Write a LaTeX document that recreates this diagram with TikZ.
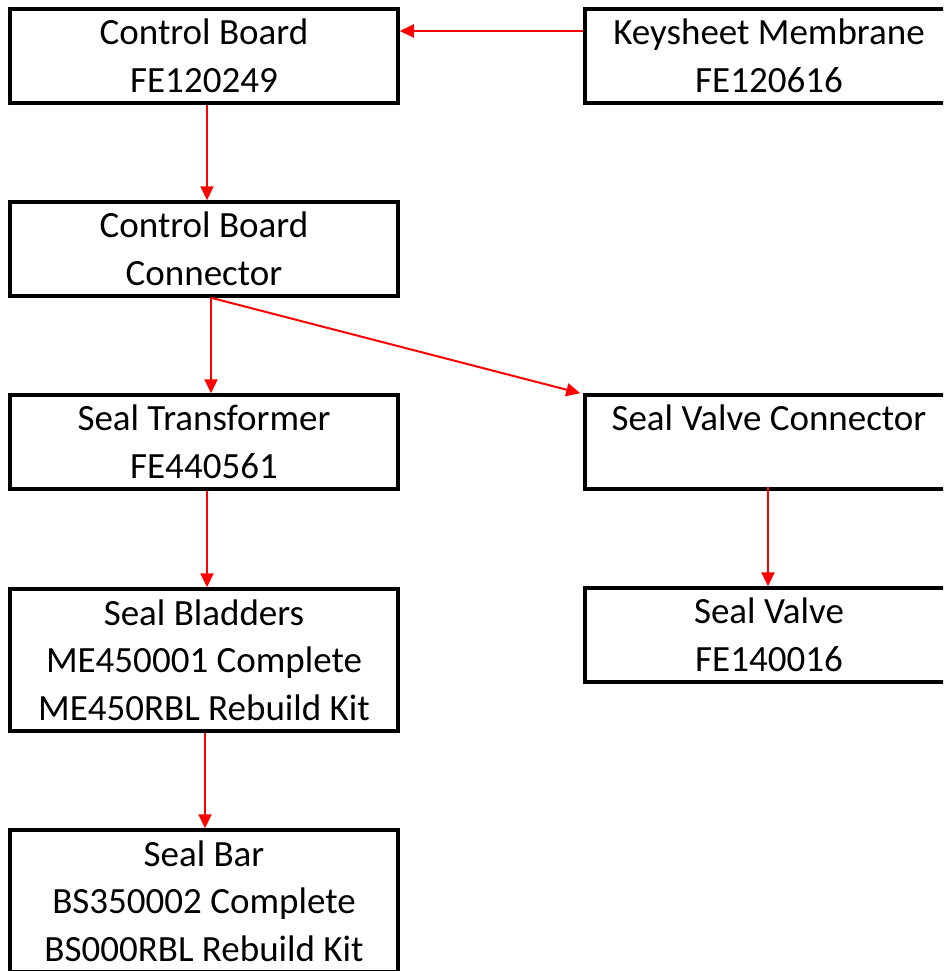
\documentclass[tikz,border=0pt]{standalone}
\usepackage{fontspec}
\setmainfont{Carlito}
\usetikzlibrary{arrows.meta}
\begin{document}
\begin{tikzpicture}[x=1pt,y=-1pt,
  box/.style={draw=black,line width=3.5pt,rectangle,align=center,inner sep=0pt,
    font=\fontsize{37}{47.5}\selectfont},
  lbox/.style={box,minimum width=388pt,minimum height=94pt},
  rbox/.style={box,minimum width=368pt,minimum height=94pt},
  arr/.style={draw=red,line width=2pt,-{Triangle[length=14pt,width=13pt]}}]
\useasboundingbox (0,0) rectangle (943,971);
\clip (0,0) rectangle (943,971);
\node[lbox] (cb) at (204,56) {Control Board\\FE120249};
\node[rbox] (ks) at (769,56) {Keysheet Membrane\\FE120616};
\node[lbox] (cbc) at (204,249) {Control Board\\Connector};
\node[lbox] (st) at (204,442) {Seal Transformer\\FE440561};
\node[rbox] (svc) at (769,442) {Seal Valve Connector\\\phantom{FE440561}};
\node[rbox] (sv) at (769,635) {Seal Valve\\FE140016};
\node[lbox,minimum height=142pt] (sbl) at (204,660) {Seal Bladders\\ME450001 Complete\\ME450RBL Rebuild Kit};
\node[lbox,minimum height=142pt] (bar) at (204,901) {Seal Bar\\BS350002 Complete\\BS000RBL Rebuild Kit};
\draw[arr] ([yshift=25pt]ks.west) -- ([yshift=25pt]cb.east);
\draw[arr] ([xshift=3pt]cb.south) -- ([xshift=3pt]cbc.north);
\draw[arr] ([xshift=7pt]cbc.south) -- ([xshift=7pt]st.north);
\draw[arr] ([xshift=7pt]cbc.south) -- ([xshift=-3pt]svc.north west);
\draw[arr] ([xshift=3pt]st.south) -- ([xshift=3pt]sbl.north);
\draw[arr] ([yshift=4pt,xshift=-1pt]svc.south) -- ([xshift=-1pt]sv.north);
\draw[arr] ([xshift=1pt]sbl.south) -- ([xshift=1pt]bar.north);
\end{tikzpicture}
\end{document}
